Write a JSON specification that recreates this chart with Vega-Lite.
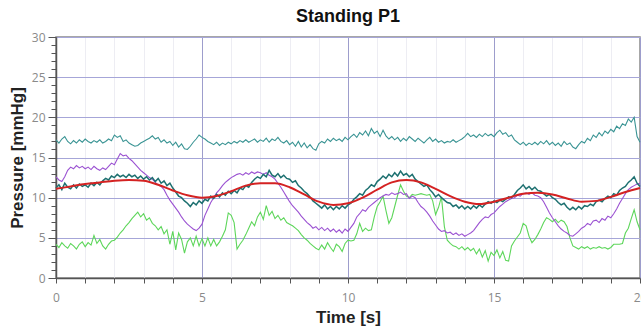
{
"$schema": "https://vega.github.io/schema/vega-lite/v6.json",
"width": 584, "height": 241,
"autosize": "none",
"padding": {"left": 56, "top": 37, "right": 1, "bottom": 48},
"background": "white",
"title": {"text": "Standing P1", "fontSize": 18, "fontWeight": "bold", "font": "Liberation Sans", "color": "#111", "offset": 5},
"config": {"view": {"stroke": "#8a8a8a", "strokeWidth": 1.5}},
"datasets": {
"A": [{"t":0,"v":17.2},{"t":0.1,"v":16.8},{"t":0.2,"v":17.3},{"t":0.3,"v":17.6},{"t":0.4,"v":17.0},{"t":0.5,"v":16.7},{"t":0.6,"v":17.1},{"t":0.7,"v":16.8},{"t":0.8,"v":17.2},{"t":0.9,"v":16.9},{"t":1.0,"v":17.3},{"t":1.1,"v":17.0},{"t":1.2,"v":16.8},{"t":1.3,"v":17.1},{"t":1.4,"v":16.9},{"t":1.5,"v":17.2},{"t":1.6,"v":16.8},{"t":1.7,"v":17.0},{"t":1.8,"v":17.3},{"t":1.9,"v":17.1},{"t":2.0,"v":17.8},{"t":2.1,"v":17.5},{"t":2.2,"v":17.7},{"t":2.3,"v":17.0},{"t":2.4,"v":17.2},{"t":2.5,"v":16.8},{"t":2.6,"v":16.6},{"t":2.7,"v":16.4},{"t":2.8,"v":16.5},{"t":2.9,"v":16.8},{"t":3.0,"v":17.0},{"t":3.1,"v":17.2},{"t":3.2,"v":17.4},{"t":3.3,"v":17.7},{"t":3.4,"v":17.3},{"t":3.5,"v":17.5},{"t":3.6,"v":16.9},{"t":3.7,"v":17.2},{"t":3.8,"v":16.8},{"t":3.9,"v":17.0},{"t":4.0,"v":16.5},{"t":4.1,"v":16.9},{"t":4.2,"v":16.3},{"t":4.3,"v":16.7},{"t":4.4,"v":16.1},{"t":4.5,"v":16.0},{"t":4.6,"v":16.4},{"t":4.7,"v":16.9},{"t":4.8,"v":17.3},{"t":4.9,"v":17.8},{"t":5.0,"v":17.5},{"t":5.1,"v":17.3},{"t":5.2,"v":17.0},{"t":5.3,"v":16.8},{"t":5.4,"v":16.6},{"t":5.5,"v":16.9},{"t":5.6,"v":16.5},{"t":5.7,"v":16.8},{"t":5.8,"v":16.6},{"t":5.9,"v":16.9},{"t":6.0,"v":16.7},{"t":6.1,"v":17.0},{"t":6.2,"v":16.8},{"t":6.3,"v":17.1},{"t":6.4,"v":16.9},{"t":6.5,"v":17.2},{"t":6.6,"v":16.9},{"t":6.7,"v":17.1},{"t":6.8,"v":17.3},{"t":6.9,"v":16.9},{"t":7.0,"v":17.2},{"t":7.1,"v":17.0},{"t":7.2,"v":17.4},{"t":7.3,"v":16.9},{"t":7.4,"v":17.3},{"t":7.5,"v":17.1},{"t":7.6,"v":17.5},{"t":7.7,"v":17.0},{"t":7.8,"v":16.8},{"t":7.9,"v":17.1},{"t":8.0,"v":16.6},{"t":8.1,"v":16.9},{"t":8.2,"v":16.4},{"t":8.3,"v":17.0},{"t":8.4,"v":16.3},{"t":8.5,"v":16.8},{"t":8.6,"v":16.2},{"t":8.7,"v":16.6},{"t":8.8,"v":16.1},{"t":8.9,"v":15.9},{"t":9.0,"v":16.7},{"t":9.1,"v":17.0},{"t":9.2,"v":16.8},{"t":9.3,"v":17.3},{"t":9.4,"v":17.0},{"t":9.5,"v":17.4},{"t":9.6,"v":17.1},{"t":9.7,"v":17.3},{"t":9.8,"v":17.0},{"t":9.9,"v":17.5},{"t":10.0,"v":17.2},{"t":10.1,"v":17.6},{"t":10.2,"v":17.9},{"t":10.3,"v":17.5},{"t":10.4,"v":18.1},{"t":10.5,"v":17.8},{"t":10.6,"v":18.3},{"t":10.7,"v":17.7},{"t":10.8,"v":18.6},{"t":10.9,"v":18.0},{"t":11.0,"v":18.3},{"t":11.1,"v":17.6},{"t":11.2,"v":18.4},{"t":11.3,"v":17.7},{"t":11.4,"v":17.3},{"t":11.5,"v":17.6},{"t":11.6,"v":17.2},{"t":11.7,"v":17.5},{"t":11.8,"v":17.0},{"t":11.9,"v":17.4},{"t":12.0,"v":17.1},{"t":12.1,"v":17.6},{"t":12.2,"v":17.3},{"t":12.3,"v":17.0},{"t":12.4,"v":17.4},{"t":12.5,"v":17.1},{"t":12.6,"v":16.8},{"t":12.7,"v":17.2},{"t":12.8,"v":17.5},{"t":12.9,"v":17.0},{"t":13.0,"v":17.3},{"t":13.1,"v":16.9},{"t":13.2,"v":17.1},{"t":13.3,"v":16.8},{"t":13.4,"v":17.0},{"t":13.5,"v":16.9},{"t":13.6,"v":17.2},{"t":13.7,"v":16.9},{"t":13.8,"v":17.1},{"t":13.9,"v":17.3},{"t":14.0,"v":17.6},{"t":14.1,"v":18.0},{"t":14.2,"v":17.6},{"t":14.3,"v":17.8},{"t":14.4,"v":17.5},{"t":14.5,"v":17.9},{"t":14.6,"v":17.6},{"t":14.7,"v":18.0},{"t":14.8,"v":17.7},{"t":14.9,"v":17.9},{"t":15.0,"v":17.6},{"t":15.1,"v":18.1},{"t":15.2,"v":18.4},{"t":15.3,"v":17.9},{"t":15.4,"v":18.1},{"t":15.5,"v":17.6},{"t":15.6,"v":17.8},{"t":15.7,"v":17.2},{"t":15.8,"v":16.9},{"t":15.9,"v":16.6},{"t":16.0,"v":16.9},{"t":16.1,"v":16.5},{"t":16.2,"v":16.8},{"t":16.3,"v":16.6},{"t":16.4,"v":16.9},{"t":16.5,"v":16.6},{"t":16.6,"v":17.0},{"t":16.7,"v":16.7},{"t":16.8,"v":17.1},{"t":16.9,"v":16.6},{"t":17.0,"v":16.9},{"t":17.1,"v":16.5},{"t":17.2,"v":16.8},{"t":17.3,"v":16.4},{"t":17.4,"v":17.0},{"t":17.5,"v":16.6},{"t":17.6,"v":16.8},{"t":17.7,"v":16.3},{"t":17.8,"v":16.1},{"t":17.9,"v":16.6},{"t":18.0,"v":17.0},{"t":18.1,"v":16.8},{"t":18.2,"v":17.4},{"t":18.3,"v":17.1},{"t":18.4,"v":17.8},{"t":18.5,"v":17.5},{"t":18.6,"v":18.1},{"t":18.7,"v":17.7},{"t":18.8,"v":18.3},{"t":18.9,"v":18.0},{"t":19.0,"v":18.5},{"t":19.1,"v":18.2},{"t":19.2,"v":18.9},{"t":19.3,"v":18.6},{"t":19.4,"v":19.2},{"t":19.5,"v":19.0},{"t":19.6,"v":19.8},{"t":19.7,"v":19.4},{"t":19.8,"v":20.0},{"t":19.9,"v":17.6},{"t":20.0,"v":16.9}],
"B": [{"t":0,"v":11.2},{"t":0.1,"v":11.6},{"t":0.2,"v":11.0},{"t":0.3,"v":11.8},{"t":0.4,"v":11.3},{"t":0.5,"v":11.1},{"t":0.6,"v":11.6},{"t":0.7,"v":11.2},{"t":0.8,"v":11.7},{"t":0.9,"v":11.4},{"t":1.0,"v":11.6},{"t":1.1,"v":11.3},{"t":1.2,"v":11.8},{"t":1.3,"v":11.5},{"t":1.4,"v":11.9},{"t":1.5,"v":11.6},{"t":1.6,"v":12.1},{"t":1.7,"v":12.4},{"t":1.8,"v":12.2},{"t":1.9,"v":12.7},{"t":2.0,"v":12.5},{"t":2.1,"v":12.9},{"t":2.2,"v":12.6},{"t":2.3,"v":12.8},{"t":2.4,"v":12.5},{"t":2.5,"v":12.9},{"t":2.6,"v":12.6},{"t":2.7,"v":12.8},{"t":2.8,"v":12.4},{"t":2.9,"v":12.7},{"t":3.0,"v":12.3},{"t":3.1,"v":12.6},{"t":3.2,"v":12.2},{"t":3.3,"v":12.5},{"t":3.4,"v":12.0},{"t":3.5,"v":12.4},{"t":3.6,"v":11.8},{"t":3.7,"v":12.1},{"t":3.8,"v":11.5},{"t":3.9,"v":11.8},{"t":4.0,"v":11.2},{"t":4.1,"v":10.7},{"t":4.2,"v":10.2},{"t":4.3,"v":10.0},{"t":4.4,"v":9.6},{"t":4.5,"v":9.3},{"t":4.6,"v":8.9},{"t":4.7,"v":9.4},{"t":4.8,"v":9.1},{"t":4.9,"v":9.6},{"t":5.0,"v":9.3},{"t":5.1,"v":9.8},{"t":5.2,"v":9.6},{"t":5.3,"v":10.2},{"t":5.4,"v":9.9},{"t":5.5,"v":10.4},{"t":5.6,"v":10.1},{"t":5.7,"v":10.6},{"t":5.8,"v":10.3},{"t":5.9,"v":10.8},{"t":6.0,"v":10.5},{"t":6.1,"v":10.9},{"t":6.2,"v":10.6},{"t":6.3,"v":11.2},{"t":6.4,"v":11.0},{"t":6.5,"v":11.5},{"t":6.6,"v":11.3},{"t":6.7,"v":11.9},{"t":6.8,"v":12.3},{"t":6.9,"v":12.6},{"t":7.0,"v":12.4},{"t":7.1,"v":12.9},{"t":7.2,"v":12.6},{"t":7.3,"v":13.4},{"t":7.4,"v":12.8},{"t":7.5,"v":12.6},{"t":7.6,"v":13.0},{"t":7.7,"v":12.5},{"t":7.8,"v":12.8},{"t":7.9,"v":12.4},{"t":8.0,"v":12.3},{"t":8.1,"v":11.9},{"t":8.2,"v":12.1},{"t":8.3,"v":11.5},{"t":8.4,"v":11.2},{"t":8.5,"v":10.8},{"t":8.6,"v":10.5},{"t":8.7,"v":10.1},{"t":8.8,"v":9.6},{"t":8.9,"v":9.3},{"t":9.0,"v":9.0},{"t":9.1,"v":8.7},{"t":9.2,"v":9.1},{"t":9.3,"v":8.6},{"t":9.4,"v":8.9},{"t":9.5,"v":8.5},{"t":9.6,"v":8.9},{"t":9.7,"v":8.6},{"t":9.8,"v":9.0},{"t":9.9,"v":8.7},{"t":10.0,"v":9.1},{"t":10.1,"v":9.3},{"t":10.2,"v":9.8},{"t":10.3,"v":10.1},{"t":10.4,"v":10.5},{"t":10.5,"v":10.3},{"t":10.6,"v":10.9},{"t":10.7,"v":11.2},{"t":10.8,"v":11.6},{"t":10.9,"v":11.4},{"t":11.0,"v":12.0},{"t":11.1,"v":12.3},{"t":11.2,"v":12.7},{"t":11.3,"v":12.4},{"t":11.4,"v":12.9},{"t":11.5,"v":12.6},{"t":11.6,"v":13.1},{"t":11.7,"v":12.7},{"t":11.8,"v":13.3},{"t":11.9,"v":12.8},{"t":12.0,"v":13.0},{"t":12.1,"v":12.6},{"t":12.2,"v":12.9},{"t":12.3,"v":12.3},{"t":12.4,"v":12.0},{"t":12.5,"v":11.7},{"t":12.6,"v":11.4},{"t":12.7,"v":11.6},{"t":12.8,"v":11.0},{"t":12.9,"v":10.6},{"t":13.0,"v":10.1},{"t":13.1,"v":10.4},{"t":13.2,"v":10.0},{"t":13.3,"v":9.7},{"t":13.4,"v":9.4},{"t":13.5,"v":9.3},{"t":13.6,"v":8.9},{"t":13.7,"v":9.1},{"t":13.8,"v":8.7},{"t":13.9,"v":9.0},{"t":14.0,"v":8.6},{"t":14.1,"v":8.9},{"t":14.2,"v":8.6},{"t":14.3,"v":9.0},{"t":14.4,"v":8.7},{"t":14.5,"v":9.1},{"t":14.6,"v":8.8},{"t":14.7,"v":9.2},{"t":14.8,"v":9.5},{"t":14.9,"v":9.3},{"t":15.0,"v":9.6},{"t":15.1,"v":9.4},{"t":15.2,"v":9.7},{"t":15.3,"v":9.5},{"t":15.4,"v":9.8},{"t":15.5,"v":10.1},{"t":15.6,"v":10.0},{"t":15.7,"v":10.4},{"t":15.8,"v":10.9},{"t":15.9,"v":11.2},{"t":16.0,"v":11.6},{"t":16.1,"v":11.1},{"t":16.2,"v":11.4},{"t":16.3,"v":11.0},{"t":16.4,"v":11.3},{"t":16.5,"v":10.9},{"t":16.6,"v":10.8},{"t":16.7,"v":10.5},{"t":16.8,"v":10.2},{"t":16.9,"v":10.4},{"t":17.0,"v":10.0},{"t":17.1,"v":9.8},{"t":17.2,"v":9.4},{"t":17.3,"v":9.1},{"t":17.4,"v":9.3},{"t":17.5,"v":8.8},{"t":17.6,"v":8.5},{"t":17.7,"v":8.8},{"t":17.8,"v":8.5},{"t":17.9,"v":8.9},{"t":18.0,"v":8.6},{"t":18.1,"v":9.0},{"t":18.2,"v":8.9},{"t":18.3,"v":9.2},{"t":18.4,"v":9.0},{"t":18.5,"v":9.5},{"t":18.6,"v":9.7},{"t":18.7,"v":9.5},{"t":18.8,"v":9.9},{"t":18.9,"v":10.2},{"t":19.0,"v":10.0},{"t":19.1,"v":10.5},{"t":19.2,"v":10.3},{"t":19.3,"v":10.9},{"t":19.4,"v":11.2},{"t":19.5,"v":11.4},{"t":19.6,"v":11.9},{"t":19.7,"v":12.2},{"t":19.8,"v":12.6},{"t":19.9,"v":11.8},{"t":20.0,"v":11.4}],
"C": [{"t":0,"v":12.6},{"t":0.1,"v":12.2},{"t":0.2,"v":12.0},{"t":0.3,"v":12.6},{"t":0.4,"v":13.4},{"t":0.5,"v":13.8},{"t":0.6,"v":13.6},{"t":0.7,"v":14.0},{"t":0.8,"v":13.7},{"t":0.9,"v":13.9},{"t":1.0,"v":13.6},{"t":1.1,"v":13.8},{"t":1.2,"v":13.5},{"t":1.3,"v":13.9},{"t":1.4,"v":13.6},{"t":1.5,"v":13.4},{"t":1.6,"v":13.7},{"t":1.7,"v":13.5},{"t":1.8,"v":13.9},{"t":1.9,"v":14.3},{"t":2.0,"v":14.1},{"t":2.1,"v":14.8},{"t":2.2,"v":15.5},{"t":2.3,"v":15.2},{"t":2.4,"v":15.3},{"t":2.5,"v":14.9},{"t":2.6,"v":14.6},{"t":2.7,"v":14.2},{"t":2.8,"v":13.8},{"t":2.9,"v":13.4},{"t":3.0,"v":13.1},{"t":3.1,"v":12.8},{"t":3.2,"v":12.5},{"t":3.3,"v":12.3},{"t":3.4,"v":11.9},{"t":3.5,"v":11.6},{"t":3.6,"v":11.4},{"t":3.7,"v":11.0},{"t":3.8,"v":10.3},{"t":3.9,"v":9.7},{"t":4.0,"v":9.2},{"t":4.1,"v":8.7},{"t":4.2,"v":8.2},{"t":4.3,"v":7.6},{"t":4.4,"v":7.1},{"t":4.5,"v":6.7},{"t":4.6,"v":6.4},{"t":4.7,"v":6.1},{"t":4.8,"v":5.9},{"t":4.9,"v":6.2},{"t":5.0,"v":6.7},{"t":5.1,"v":7.8},{"t":5.2,"v":8.6},{"t":5.3,"v":9.4},{"t":5.4,"v":10.0},{"t":5.5,"v":10.6},{"t":5.6,"v":11.0},{"t":5.7,"v":11.5},{"t":5.8,"v":11.9},{"t":5.9,"v":12.2},{"t":6.0,"v":12.5},{"t":6.1,"v":12.7},{"t":6.2,"v":12.9},{"t":6.3,"v":13.0},{"t":6.4,"v":12.8},{"t":6.5,"v":13.1},{"t":6.6,"v":12.9},{"t":6.7,"v":13.2},{"t":6.8,"v":13.0},{"t":6.9,"v":13.2},{"t":7.0,"v":13.1},{"t":7.1,"v":12.9},{"t":7.2,"v":13.1},{"t":7.3,"v":12.8},{"t":7.4,"v":12.6},{"t":7.5,"v":12.3},{"t":7.6,"v":11.8},{"t":7.7,"v":11.3},{"t":7.8,"v":10.7},{"t":7.9,"v":10.1},{"t":8.0,"v":9.5},{"t":8.1,"v":9.0},{"t":8.2,"v":8.6},{"t":8.3,"v":8.2},{"t":8.4,"v":7.7},{"t":8.5,"v":7.3},{"t":8.6,"v":6.9},{"t":8.7,"v":6.6},{"t":8.8,"v":6.2},{"t":8.9,"v":6.4},{"t":9.0,"v":6.0},{"t":9.1,"v":6.3},{"t":9.2,"v":5.9},{"t":9.3,"v":6.2},{"t":9.4,"v":5.8},{"t":9.5,"v":6.1},{"t":9.6,"v":5.7},{"t":9.7,"v":6.0},{"t":9.8,"v":5.6},{"t":9.9,"v":6.1},{"t":10.0,"v":5.8},{"t":10.1,"v":6.3},{"t":10.2,"v":6.8},{"t":10.3,"v":7.6},{"t":10.4,"v":8.0},{"t":10.5,"v":8.5},{"t":10.6,"v":8.3},{"t":10.7,"v":8.8},{"t":10.8,"v":9.1},{"t":10.9,"v":9.4},{"t":11.0,"v":9.7},{"t":11.1,"v":10.0},{"t":11.2,"v":10.2},{"t":11.3,"v":10.4},{"t":11.4,"v":10.3},{"t":11.5,"v":10.6},{"t":11.6,"v":10.4},{"t":11.7,"v":10.5},{"t":11.8,"v":10.7},{"t":11.9,"v":10.4},{"t":12.0,"v":10.5},{"t":12.1,"v":9.9},{"t":12.2,"v":10.2},{"t":12.3,"v":10.0},{"t":12.4,"v":9.4},{"t":12.5,"v":8.9},{"t":12.6,"v":8.6},{"t":12.7,"v":8.2},{"t":12.8,"v":7.7},{"t":12.9,"v":7.1},{"t":13.0,"v":6.6},{"t":13.1,"v":6.1},{"t":13.2,"v":5.8},{"t":13.3,"v":5.9},{"t":13.4,"v":5.6},{"t":13.5,"v":5.7},{"t":13.6,"v":5.4},{"t":13.7,"v":5.6},{"t":13.8,"v":5.3},{"t":13.9,"v":5.5},{"t":14.0,"v":5.2},{"t":14.1,"v":5.4},{"t":14.2,"v":5.6},{"t":14.3,"v":5.9},{"t":14.4,"v":6.4},{"t":14.5,"v":6.9},{"t":14.6,"v":7.3},{"t":14.7,"v":7.6},{"t":14.8,"v":7.5},{"t":14.9,"v":7.9},{"t":15.0,"v":8.1},{"t":15.1,"v":8.5},{"t":15.2,"v":8.9},{"t":15.3,"v":9.2},{"t":15.4,"v":9.5},{"t":15.5,"v":9.7},{"t":15.6,"v":9.9},{"t":15.7,"v":10.0},{"t":15.8,"v":10.3},{"t":15.9,"v":10.2},{"t":16.0,"v":10.5},{"t":16.1,"v":10.6},{"t":16.2,"v":10.4},{"t":16.3,"v":10.6},{"t":16.4,"v":10.3},{"t":16.5,"v":10.2},{"t":16.6,"v":10.0},{"t":16.7,"v":9.5},{"t":16.8,"v":8.8},{"t":16.9,"v":8.1},{"t":17.0,"v":7.5},{"t":17.1,"v":7.0},{"t":17.2,"v":6.5},{"t":17.3,"v":6.1},{"t":17.4,"v":5.8},{"t":17.5,"v":5.6},{"t":17.6,"v":5.3},{"t":17.7,"v":5.2},{"t":17.8,"v":5.5},{"t":17.9,"v":5.8},{"t":18.0,"v":6.2},{"t":18.1,"v":6.4},{"t":18.2,"v":6.8},{"t":18.3,"v":6.6},{"t":18.4,"v":7.1},{"t":18.5,"v":7.2},{"t":18.6,"v":6.9},{"t":18.7,"v":7.4},{"t":18.8,"v":7.2},{"t":18.9,"v":7.7},{"t":19.0,"v":7.5},{"t":19.1,"v":8.0},{"t":19.2,"v":8.6},{"t":19.3,"v":9.3},{"t":19.4,"v":9.9},{"t":19.5,"v":10.5},{"t":19.6,"v":11.0},{"t":19.7,"v":11.3},{"t":19.8,"v":11.5},{"t":19.9,"v":11.7},{"t":20.0,"v":11.8}],
"D": [{"t":0,"v":4.2},{"t":0.1,"v":3.8},{"t":0.2,"v":4.4},{"t":0.3,"v":4.0},{"t":0.4,"v":3.7},{"t":0.5,"v":4.3},{"t":0.6,"v":4.0},{"t":0.7,"v":3.6},{"t":0.8,"v":4.2},{"t":0.9,"v":4.5},{"t":1.0,"v":3.9},{"t":1.1,"v":4.4},{"t":1.2,"v":4.1},{"t":1.3,"v":5.3},{"t":1.4,"v":4.3},{"t":1.5,"v":4.8},{"t":1.6,"v":4.0},{"t":1.7,"v":3.6},{"t":1.8,"v":4.2},{"t":1.9,"v":4.6},{"t":2.0,"v":4.7},{"t":2.1,"v":5.1},{"t":2.2,"v":5.6},{"t":2.3,"v":6.0},{"t":2.4,"v":6.5},{"t":2.5,"v":6.9},{"t":2.6,"v":7.4},{"t":2.7,"v":7.8},{"t":2.8,"v":8.2},{"t":2.9,"v":7.6},{"t":3.0,"v":8.0},{"t":3.1,"v":7.2},{"t":3.2,"v":7.5},{"t":3.3,"v":6.8},{"t":3.4,"v":6.5},{"t":3.5,"v":6.0},{"t":3.6,"v":6.4},{"t":3.7,"v":5.5},{"t":3.8,"v":6.0},{"t":3.9,"v":4.2},{"t":4.0,"v":5.8},{"t":4.1,"v":3.5},{"t":4.2,"v":5.6},{"t":4.3,"v":4.8},{"t":4.4,"v":3.1},{"t":4.5,"v":4.5},{"t":4.6,"v":5.0},{"t":4.7,"v":4.0},{"t":4.8,"v":5.2},{"t":4.9,"v":4.0},{"t":5.0,"v":4.9},{"t":5.1,"v":4.0},{"t":5.2,"v":5.0},{"t":5.3,"v":4.0},{"t":5.4,"v":4.8},{"t":5.5,"v":4.0},{"t":5.6,"v":4.5},{"t":5.7,"v":5.2},{"t":5.8,"v":6.0},{"t":5.9,"v":8.1},{"t":6.0,"v":7.8},{"t":6.1,"v":6.9},{"t":6.2,"v":3.6},{"t":6.3,"v":4.2},{"t":6.4,"v":4.7},{"t":6.5,"v":5.4},{"t":6.6,"v":6.2},{"t":6.7,"v":7.0},{"t":6.8,"v":6.5},{"t":6.9,"v":7.6},{"t":7.0,"v":8.2},{"t":7.1,"v":7.3},{"t":7.2,"v":9.0},{"t":7.3,"v":7.8},{"t":7.4,"v":8.3},{"t":7.5,"v":7.4},{"t":7.6,"v":7.8},{"t":7.7,"v":7.2},{"t":7.8,"v":7.5},{"t":7.9,"v":6.9},{"t":8.0,"v":6.7},{"t":8.1,"v":6.5},{"t":8.2,"v":6.2},{"t":8.3,"v":5.9},{"t":8.4,"v":5.4},{"t":8.5,"v":5.0},{"t":8.6,"v":4.7},{"t":8.7,"v":4.3},{"t":8.8,"v":4.0},{"t":8.9,"v":3.7},{"t":9.0,"v":3.5},{"t":9.1,"v":4.1},{"t":9.2,"v":3.6},{"t":9.3,"v":4.4},{"t":9.4,"v":3.8},{"t":9.5,"v":3.3},{"t":9.6,"v":4.2},{"t":9.7,"v":3.9},{"t":9.8,"v":3.3},{"t":9.9,"v":4.3},{"t":10.0,"v":4.7},{"t":10.1,"v":4.6},{"t":10.2,"v":4.7},{"t":10.3,"v":5.5},{"t":10.4,"v":6.8},{"t":10.5,"v":5.8},{"t":10.6,"v":6.2},{"t":10.7,"v":5.9},{"t":10.8,"v":6.0},{"t":10.9,"v":7.6},{"t":11.0,"v":8.9},{"t":11.1,"v":9.5},{"t":11.2,"v":10.2},{"t":11.3,"v":8.4},{"t":11.4,"v":6.8},{"t":11.5,"v":7.5},{"t":11.6,"v":8.9},{"t":11.7,"v":10.3},{"t":11.8,"v":11.6},{"t":11.9,"v":10.8},{"t":12.0,"v":10.2},{"t":12.1,"v":10.0},{"t":12.2,"v":10.4},{"t":12.3,"v":10.3},{"t":12.4,"v":10.4},{"t":12.5,"v":10.5},{"t":12.6,"v":10.4},{"t":12.7,"v":10.3},{"t":12.8,"v":10.4},{"t":12.9,"v":9.6},{"t":13.0,"v":7.9},{"t":13.1,"v":8.8},{"t":13.2,"v":10.1},{"t":13.3,"v":6.4},{"t":13.4,"v":4.7},{"t":13.5,"v":4.3},{"t":13.6,"v":4.0},{"t":13.7,"v":3.9},{"t":13.8,"v":3.6},{"t":13.9,"v":3.9},{"t":14.0,"v":3.5},{"t":14.1,"v":3.8},{"t":14.2,"v":3.4},{"t":14.3,"v":3.7},{"t":14.4,"v":3.0},{"t":14.5,"v":3.6},{"t":14.6,"v":2.6},{"t":14.7,"v":3.4},{"t":14.8,"v":2.1},{"t":14.9,"v":3.2},{"t":15.0,"v":2.8},{"t":15.1,"v":3.5},{"t":15.2,"v":2.5},{"t":15.3,"v":3.3},{"t":15.4,"v":2.2},{"t":15.5,"v":2.1},{"t":15.6,"v":4.0},{"t":15.7,"v":4.6},{"t":15.8,"v":5.1},{"t":15.9,"v":5.6},{"t":16.0,"v":6.8},{"t":16.1,"v":6.5},{"t":16.2,"v":5.2},{"t":16.3,"v":4.4},{"t":16.4,"v":4.8},{"t":16.5,"v":5.4},{"t":16.6,"v":6.1},{"t":16.7,"v":6.9},{"t":16.8,"v":7.5},{"t":16.9,"v":7.3},{"t":17.0,"v":7.0},{"t":17.1,"v":7.3},{"t":17.2,"v":6.9},{"t":17.3,"v":7.2},{"t":17.4,"v":7.0},{"t":17.5,"v":6.4},{"t":17.6,"v":5.0},{"t":17.7,"v":4.0},{"t":17.8,"v":3.8},{"t":17.9,"v":3.6},{"t":18.0,"v":3.9},{"t":18.1,"v":3.7},{"t":18.2,"v":3.9},{"t":18.3,"v":3.6},{"t":18.4,"v":3.8},{"t":18.5,"v":3.7},{"t":18.6,"v":3.9},{"t":18.7,"v":3.7},{"t":18.8,"v":3.8},{"t":18.9,"v":3.6},{"t":19.0,"v":3.8},{"t":19.1,"v":4.2},{"t":19.2,"v":4.2},{"t":19.3,"v":4.2},{"t":19.4,"v":4.3},{"t":19.5,"v":5.6},{"t":19.6,"v":6.2},{"t":19.7,"v":7.4},{"t":19.8,"v":8.5},{"t":19.9,"v":7.0},{"t":20.0,"v":6.0}],
"R": [{"t":0,"v":11.1},{"t":0.5,"v":11.4},{"t":1,"v":11.7},{"t":1.5,"v":11.9},{"t":2,"v":12.1},{"t":2.5,"v":12.2},{"t":3,"v":12.1},{"t":3.5,"v":11.6},{"t":4,"v":10.9},{"t":4.5,"v":10.3},{"t":5,"v":10.0},{"t":5.5,"v":10.2},{"t":6,"v":10.8},{"t":6.5,"v":11.5},{"t":7,"v":11.8},{"t":7.5,"v":11.8},{"t":8,"v":11.3},{"t":8.5,"v":10.4},{"t":9,"v":9.5},{"t":9.5,"v":9.1},{"t":10,"v":9.3},{"t":10.5,"v":10.0},{"t":11,"v":11.0},{"t":11.5,"v":11.9},{"t":12,"v":12.2},{"t":12.5,"v":11.9},{"t":13,"v":11.1},{"t":13.5,"v":10.2},{"t":14,"v":9.5},{"t":14.5,"v":9.2},{"t":15,"v":9.5},{"t":15.5,"v":10.0},{"t":16,"v":10.5},{"t":16.5,"v":10.6},{"t":17,"v":10.4},{"t":17.5,"v":9.9},{"t":18,"v":9.5},{"t":18.5,"v":9.6},{"t":19,"v":10.1},{"t":19.5,"v":10.7},{"t":20,"v":11.2}]
},
"encoding": {
"x": {"field": "t", "type": "quantitative", "scale": {"domain": [0, 20], "nice": false},
 "axis": {"title": "Time [s]", "values": [0,1,2,3,4,5,6,7,8,9,10,11,12,13,14,15,16,17,18,19,20],
  "labelExpr": "datum.value % 5 === 0 ? datum.label : ''", "labelFlush": false,
  "grid": true, "gridColor": {"condition": {"test": "datum.value % 5 === 0", "value": "#9d9dcc"}, "value": "#ededf3"},
  "tickSize": 5, "tickColor": "#555", "domainColor": "#555", "domainWidth": 1.5,
  "labelColor": "#8a8a8a", "labelFont": "Open Sans", "labelFontSize": 12, "labelPadding": 9,
  "titleFont": "Liberation Sans", "titleFontSize": 17, "titleFontWeight": "bold", "titleColor": "#222", "titlePadding": 6}},
"y": {"field": "v", "type": "quantitative", "scale": {"domain": [0, 30], "nice": false},
 "axis": {"title": "Pressure [mmHg]", "values": [0,1,2,3,4,5,6,7,8,9,10,11,12,13,14,15,16,17,18,19,20,21,22,23,24,25,26,27,28,29,30],
  "labelExpr": "datum.value % 5 === 0 ? datum.label : ''",
  "grid": true, "gridColor": "#a6a6d8", "gridOpacity": {"condition": {"test": "datum.value % 5 === 0", "value": 1}, "value": 0},
  "tickSize": {"condition": {"test": "datum.value % 5 === 0", "value": 8}, "value": 5}, "tickColor": "#555", "domainColor": "#555", "domainWidth": 1.5,
  "labelColor": "#8a8a8a", "labelFont": "Open Sans", "labelFontSize": 12, "labelPadding": 3,
  "titleFont": "Liberation Sans", "titleFontSize": 17, "titleFontWeight": "bold", "titleColor": "#222", "titlePadding": 5}}
},
"layer": [
 {"data": {"name": "A"}, "mark": {"type": "line", "color": "#3a9494", "strokeWidth": 1.1}},
 {"data": {"name": "D"}, "mark": {"type": "line", "color": "#5dd65a", "strokeWidth": 1.1}},
 {"data": {"name": "C"}, "mark": {"type": "line", "color": "#9b52d2", "strokeWidth": 1.1}},
 {"data": {"name": "B"}, "mark": {"type": "line", "color": "#1d7070", "strokeWidth": 1.5}},
 {"data": {"name": "R"}, "mark": {"type": "line", "color": "#d42222", "strokeWidth": 2, "interpolate": "monotone"}}
]
}
